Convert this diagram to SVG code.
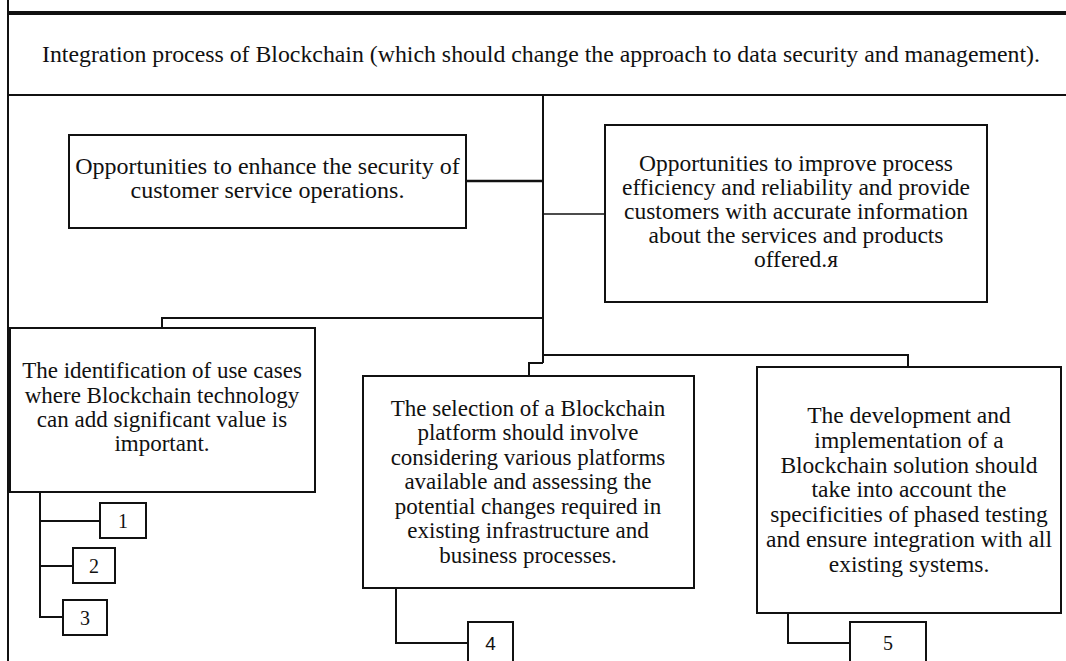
<svg xmlns="http://www.w3.org/2000/svg" width="1066" height="661" viewBox="0 0 1066 661">
<style>
.box{fill:#fff;stroke:#111;stroke-width:2}
.ln{fill:none;stroke:#111;stroke-width:2}
.t{font-family:"Liberation Serif","Times New Roman",serif;font-size:23px;fill:#111;text-anchor:middle}
.n{font-family:"Liberation Serif","Times New Roman",serif;font-size:20px;fill:#111;text-anchor:middle}
</style>
<rect width="1066" height="661" fill="#fff"/>
<g id="frame">
<line x1="8" y1="0" x2="8" y2="661" class="ln"/>
<line x1="8" y1="13" x2="1066" y2="13" stroke="#111" stroke-width="4"/>
<line x1="8" y1="95" x2="1066" y2="95" class="ln"/>
</g>
<g id="header">
<text x="541" y="62" class="t" style="font-size:23px" textLength="998" lengthAdjust="spacingAndGlyphs">Integration process of Blockchain (which should change the approach to data security and management).</text>
</g>
<g id="connectors">
<line x1="543" y1="95" x2="543" y2="363" class="ln"/>
<line x1="466" y1="181" x2="543" y2="181" stroke="#111" stroke-width="2.5"/>
<line x1="543" y1="214" x2="605" y2="214" stroke="#111" stroke-width="1.5"/>
<polyline points="543,318 162,318 162,328" class="ln"/>
<polyline points="543,363 529,363 529,376" class="ln"/>
<polyline points="543,355 908,355 908,367" class="ln"/>
<line x1="40" y1="492" x2="40" y2="618" class="ln"/>
<line x1="40" y1="521" x2="100" y2="521" class="ln"/>
<line x1="40" y1="566" x2="73" y2="566" class="ln"/>
<line x1="40" y1="617" x2="63" y2="617" class="ln"/>
<polyline points="396,588 396,643 468,643" class="ln"/>
<polyline points="788,613 788,643 850,643" class="ln"/>
</g>
<g id="node-security">
<rect x="69" y="135" width="397" height="93" class="box"/>
<text class="t" style="font-size:24px"><tspan x="267.5" y="174">Opportunities to enhance the security of</tspan><tspan x="267.5" y="198">customer service operations.</tspan></text>
</g>
<g id="node-efficiency">
<rect x="605" y="125" width="382" height="177" class="box"/>
<text class="t" style="font-size:23.5px"><tspan x="796" y="171">Opportunities to improve process</tspan><tspan x="796" y="195">efficiency and reliability and provide</tspan><tspan x="796" y="219">customers with accurate information</tspan><tspan x="796" y="243">about the services and products</tspan><tspan x="796" y="267">offered.я</tspan></text>
</g>
<g id="node-usecases">
<rect x="10" y="328" width="305" height="164" class="box"/>
<text class="t"><tspan x="162" y="378">The identification of use cases</tspan><tspan x="162" y="403">where Blockchain technology</tspan><tspan x="162" y="427">can add significant value is</tspan><tspan x="162" y="451">important.</tspan></text>
</g>
<g id="node-platform">
<rect x="363" y="376" width="331" height="212" class="box"/>
<text class="t"><tspan x="528" y="416">The selection of a Blockchain</tspan><tspan x="528" y="440">platform should involve</tspan><tspan x="528" y="465">considering various platforms</tspan><tspan x="528" y="489">available and assessing the</tspan><tspan x="528" y="514">potential changes required in</tspan><tspan x="528" y="538">existing infrastructure and</tspan><tspan x="528" y="563">business processes.</tspan></text>
</g>
<g id="node-development">
<rect x="757" y="367" width="304" height="246" class="box"/>
<text class="t" style="font-size:23.5px"><tspan x="909" y="423">The development and</tspan><tspan x="909" y="448">implementation of a</tspan><tspan x="909" y="473">Blockchain solution should</tspan><tspan x="909" y="497">take into account the</tspan><tspan x="909" y="522">specificities of phased testing</tspan><tspan x="909" y="547">and ensure integration with all</tspan><tspan x="909" y="572">existing systems.</tspan></text>
</g>
<g id="node-1">
<rect x="100" y="503" width="46" height="35" class="box"/>
<text x="123" y="528" class="n">1</text>
</g>
<g id="node-2">
<rect x="73" y="548" width="42" height="35" class="box"/>
<text x="94" y="573" class="n">2</text>
</g>
<g id="node-3">
<rect x="63" y="600" width="44" height="35" class="box"/>
<text x="85" y="625" class="n">3</text>
</g>
<g id="node-4">
<rect x="468" y="622" width="45" height="50" class="box"/>
<text x="490.5" y="650" class="n" style="font-family:'Liberation Sans',Arial,sans-serif;font-size:19px">4</text>
</g>
<g id="node-5">
<rect x="850" y="622" width="76" height="50" class="box"/>
<text x="888" y="650" class="n">5</text>
</g>
</svg>
